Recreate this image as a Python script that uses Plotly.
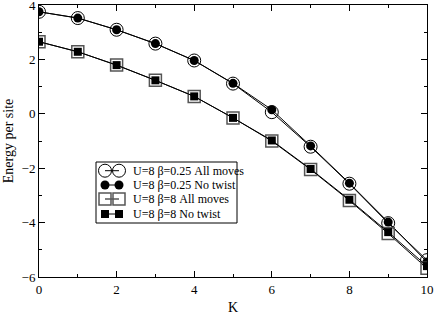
import plotly.graph_objects as go

K = [0, 1, 2, 3, 4, 5, 6, 7, 8, 9, 10]
e_b025_all = [3.75, 3.52, 3.09, 2.58, 1.96, 1.11, 0.06, -1.21, -2.57, -4.02, -5.38]
e_b025_notwist = [3.75, 3.52, 3.09, 2.58, 1.96, 1.12, 0.15, -1.18, -2.55, -3.98, -5.45]
e_b8_all = [2.65, 2.28, 1.79, 1.23, 0.64, -0.15, -1.00, -2.05, -3.19, -4.40, -5.68]
e_b8_notwist = [2.65, 2.28, 1.79, 1.23, 0.64, -0.15, -0.98, -2.03, -3.16, -4.35, -5.60]
names = ["U=8 β=0.25 All moves", "U=8 β=0.25 No twist", "U=8 β=8 All moves", "U=8 β=8 No twist"]

FONT = "Liberation Serif, Times New Roman, serif"

styles = [
    dict(symbol="circle-open", size=13, color="black", line=dict(width=1)),
    dict(symbol="circle", size=9, color="black"),
    dict(symbol="square-open", size=12, color="#555555", line=dict(width=1.5)),
    dict(symbol="square", size=8, color="black"),
]
series = [e_b025_all, e_b025_notwist, e_b8_all, e_b8_notwist]

fig = go.Figure()
for name, ys, st in zip(names, series, styles):
    fig.add_trace(go.Scatter(x=K, y=ys, name=name, mode="lines+markers",
        line=dict(color="black", width=1), marker=st, showlegend=False))

# hand-drawn legend (in a small overlay axis measured in pixels)
leg_w, leg_h = 141, 61
pad = 2
row_y = [52.3, 38, 24, 9]
lx0, lx1 = (96 - pad - 39) / 388, (96 + leg_w + pad - 39) / 388
ly0, ly1 = (277 - 162 - leg_h - pad) / 272, (277 - 162 + pad) / 272

# legend frame
fig.add_trace(go.Scatter(x=[0, leg_w, leg_w, 0, 0], y=[0, 0, leg_h, leg_h, 0],
    mode="lines", line=dict(color="black", width=1), showlegend=False,
    xaxis="x2", yaxis="y2", hoverinfo="skip"))
for name, st, ry in zip(names, styles, row_y):
    fig.add_trace(go.Scatter(x=[9, 23], y=[ry, ry], mode="lines+markers",
        line=dict(color="black", width=1), marker=st, showlegend=False,
        xaxis="x2", yaxis="y2", hoverinfo="skip"))
    fig.add_annotation(x=35, y=ry, xref="x2", yref="y2", text=name, showarrow=False,
        xanchor="left", yanchor="middle",
        font=dict(family=FONT, size=12, color="black"))

axis_common = dict(showline=True, linecolor="black", linewidth=1, mirror="allticks",
    ticks="inside", ticklen=6, tickcolor="black", showgrid=False, zeroline=False,
    ticklabeloverflow="allow", automargin=False,
    tickfont=dict(family=FONT, size=13, color="black"))

fig.update_layout(
    xaxis=dict(range=[0, 10], dtick=2, tick0=0,
        minor=dict(dtick=1, ticks="inside", ticklen=3, tickcolor="black"),
        title=dict(text="K", font=dict(family=FONT, size=14, color="black"), standoff=8),
        **axis_common),
    yaxis=dict(range=[-6, 4], dtick=2, tick0=0,
        minor=dict(dtick=1, ticks="inside", ticklen=3, tickcolor="black"),
        title=dict(text="Energy per site", font=dict(family=FONT, size=14, color="black"), standoff=4),
        **axis_common),
    xaxis2=dict(domain=[lx0, lx1], range=[-pad, leg_w + pad],
        visible=False, anchor="y2", fixedrange=True, automargin=False),
    yaxis2=dict(domain=[ly0, ly1], range=[-pad, leg_h + pad],
        visible=False, anchor="x2", fixedrange=True, automargin=False),
    width=436, height=315,
    margin=dict(l=39, r=9, t=5, b=38, autoexpand=False),
    plot_bgcolor="white", paper_bgcolor="white",
    font=dict(family=FONT, color="black"),
    showlegend=False,
)

fig.write_html("out.html", config={"displayModeBar": False},
               post_script="document.body.style.margin='0';")
